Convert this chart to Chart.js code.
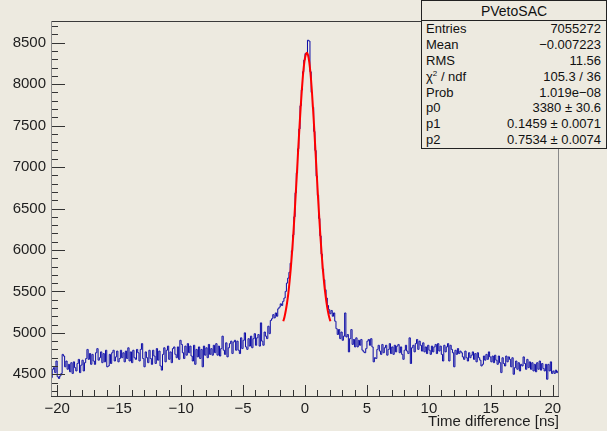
<!DOCTYPE html>
<html>
<head>
<meta charset="utf-8">
<script src="https://cdn.jsdelivr.net/npm/chart.js@4"></script>
<style>
  html, body { margin: 0; padding: 0; background: #edeae0; }
  #wrap { position: relative; width: 607px; height: 431px; }
  #c { display: block; }
  #stats {
    position: absolute; left: 421px; top: 0; width: 184px; height: 147px;
    border: 1px solid #222; background: #edeae0;
    font-family: "Liberation Sans", Arial, sans-serif; font-size: 13px; color: #111;
  }
  #stats .head { height: 19px; line-height: 20px; text-align: center; border-bottom: 1px solid #222; font-size: 14px; }
  #stats .row { display: flex; justify-content: space-between; height: 15.9px; line-height: 16px; padding: 0 5px 0 4px; }
  #stats sup { font-size: 8px; line-height: 0; vertical-align: 5px; }
</style>
</head>
<body>
<div id="wrap">
  <canvas id="c" width="607" height="431"></canvas>
  <div id="stats">
    <div class="head">PVetoSAC</div>
    <div class="row"><span>Entries</span><span>7055272</span></div>
    <div class="row"><span>Mean</span><span>&minus;0.007223</span></div>
    <div class="row"><span>RMS</span><span>11.56</span></div>
    <div class="row"><span>&chi;<sup>2</sup> / ndf</span><span>105.3 / 36</span></div>
    <div class="row"><span>Prob</span><span>1.019e&minus;08</span></div>
    <div class="row"><span>p0</span><span>3380 &plusmn; 30.6</span></div>
    <div class="row"><span>p1</span><span>0.1459 &plusmn; 0.0071</span></div>
    <div class="row"><span>p2</span><span>0.7534 &plusmn; 0.0074</span></div>
  </div>
</div>
<script>
// histogram: 410 bins of 0.1 ns from -20.5 to 20.5
const binLow = -20.5;
const binWidth = 0.1;
const counts = [
  4460, 4560, 4580, 4520, 4660, 4470, 4450, 4480, 4510, 4740,
  4720, 4590, 4660, 4560, 4620, 4530, 4640, 4510, 4650, 4580,
  4540, 4630, 4680, 4520, 4610, 4670, 4540, 4640, 4690, 4800,
  4680, 4750, 4620, 4740, 4660, 4620, 4760, 4810, 4670, 4700,
  4770, 4640, 4750, 4650, 4790, 4590, 4600, 4740, 4630, 4760,
  4790, 4660, 4710, 4780, 4650, 4690, 4790, 4700, 4760, 4650,
  4780, 4690, 4820, 4660, 4770, 4640, 4790, 4700, 4680, 4800,
  4760, 4660, 4800, 4870, 4690, 4590, 4770, 4700, 4640, 4790,
  4690, 4620, 4790, 4720, 4630, 4810, 4670, 4780, 4600, 4550,
  4740, 4820, 4650, 4790, 4840, 4680, 4770, 4640, 4810, 4830,
  4740, 4700, 4830, 4680, 4910, 4860, 4760, 4690, 4840, 4730,
  4870, 4760, 4840, 4720, 4660, 4850, 4620, 4800, 4710, 4830,
  4690, 4800, 4590, 4840, 4730, 4820, 4700, 4860, 4740, 4810,
  4730, 4850, 4760, 4870, 4730, 4840, 4720, 4810, 4960, 4790,
  4740, 4880, 4710, 4820, 4870, 4900, 4750, 4890, 4910, 4790,
  4900, 4790, 4750, 4940, 4810, 4910, 5000, 4830, 4800, 4930,
  4840, 4960, 4820, 4930, 4990, 4850, 4940, 4980, 4840, 5120,
  4900, 4850, 5010, 4960, 4930, 5080, 4990, 5150, 5170, 5220,
  5180, 5240, 5200, 5290, 5310, 5350, 5330, 5380, 5420, 5500,
  5600, 5660, 5730, 5840, 5990, 6180, 6400, 6690, 6930, 7220,
  7460, 7740, 7930, 8150, 8290, 8370, 8360, 8530, 8520, 8150,
  7900, 7720, 7430, 7200, 6890, 6660, 6380, 6170, 5950, 5770,
  5640, 5520, 5420, 5330, 5280, 5230, 5270, 5200, 5240, 5140,
  5050, 4980, 5040, 4930, 5010, 4910, 4960, 5240, 4950, 4980,
  4770, 4930, 5040, 4860, 4920, 4830, 4940, 4830, 4910, 4850,
  4920, 4790, 4770, 4760, 4810, 4900, 4920, 4850, 4930, 4830,
  4650, 4700, 4690, 4800, 4850, 4780, 4740, 4860, 4760, 4820,
  4850, 4730, 4800, 4870, 4750, 4830, 4740, 4850, 4770, 4840,
  4860, 4760, 4830, 4740, 4680, 4790, 4850, 4780, 4750, 4940,
  4630, 4820, 4850, 4770, 4870, 4920, 4800, 4900, 4850, 4780,
  4880, 4770, 4830, 4750, 4850, 4790, 4740, 4840, 4770, 4830,
  4860, 4750, 4870, 4780, 4840, 4740, 4660, 4850, 4770, 4830,
  4870, 4660, 4850, 4800, 4760, 4590, 4790, 4740, 4810, 4750,
  4780, 4760, 4710, 4680, 4780, 4700, 4660, 4760, 4700, 4730,
  4770, 4680, 4750, 4650, 4760, 4700, 4670, 4600, 4620, 4720,
  4670, 4740, 4680, 4770, 4710, 4650, 4720, 4640, 4730, 4670,
  4620, 4720, 4640, 4520, 4700, 4630, 4600, 4720, 4650, 4710,
  4680, 4590, 4700, 4500, 4580, 4660, 4560, 4640, 4540, 4620,
  4600, 4710, 4630, 4560, 4680, 4580, 4650, 4560, 4640, 4540,
  4620, 4530, 4640, 4560, 4660, 4550, 4630, 4570, 4540, 4620,
  4440, 4620, 4540, 4650, 4510, 4540, 4510, 4550, 4520, 4540
];

// fitted curve, sampled every 0.1 ns from -1.75 to 2.05
const fitStart = -1.75;
const fitStep = 0.1;
const fitValues = [
  5140, 5195, 5270, 5360, 5470, 5610, 5770, 5960, 6170, 6410,
  6670, 6930, 7210, 7470, 7720, 7940, 8130, 8270, 8350, 8380,
  8350, 8260, 8120, 7930, 7700, 7450, 7180, 6910, 6640, 6390,
  6150, 5940, 5750, 5590, 5460, 5350, 5260, 5190, 5140
];

const xTicks = [-20, -15, -10, -5, 0, 5, 10, 15, 20];
const yTicks = [4500, 5000, 5500, 6000, 6500, 7000, 7500, 8000, 8500];

const histPoints = counts.map((v, i) => ({ x: binLow + (i + 0.5) * binWidth, y: v }));
const fitPoints = fitValues.map((v, i) => ({ x: fitStart + i * fitStep, y: v }));

const font = { family: 'Liberation Sans', size: 15 };

// ROOT style: ticks inside the frame, frame drawn over the data
const rootFrame = {
  id: 'rootFrame',
  afterDatasetsDraw(chart) {
    const { ctx, chartArea: a, scales: { x, y } } = chart;
    ctx.save();
    ctx.lineWidth = 1;
    ctx.strokeStyle = '#333';
    ctx.beginPath();
    for (let v = -20; v <= 20; v++) {
      const px = Math.round(x.getPixelForValue(v)) + 0.5;
      const len = v % 5 === 0 ? 11 : 6;
      ctx.moveTo(px, a.bottom);
      ctx.lineTo(px, a.bottom - len);
    }
    for (let v = 4300; v <= 8700; v += 100) {
      const py = Math.round(y.getPixelForValue(v)) + 0.5;
      const len = v % 500 === 0 ? 14 : 7;
      ctx.moveTo(a.left, py);
      ctx.lineTo(a.left + len, py);
    }
    ctx.stroke();

    ctx.beginPath();
    ctx.strokeStyle = '#3a3a3a';
    ctx.moveTo(a.left, a.top + 0.5); ctx.lineTo(a.right, a.top + 0.5);
    ctx.moveTo(a.left, a.bottom + 0.5); ctx.lineTo(a.right, a.bottom + 0.5);
    ctx.stroke();
    ctx.beginPath();
    ctx.strokeStyle = '#8a8a8a';
    ctx.moveTo(a.left + 0.5, a.top); ctx.lineTo(a.left + 0.5, a.bottom);
    ctx.moveTo(a.right - 0.5, a.top); ctx.lineTo(a.right - 0.5, a.bottom);
    ctx.stroke();
    ctx.restore();
  }
};

new Chart(document.getElementById('c'), {
  type: 'line',
  data: {
    datasets: [
      {
        data: fitPoints,
        borderColor: '#ff0000',
        borderWidth: 2,
        pointRadius: 0,
        cubicInterpolationMode: 'monotone',
        order: 0
      },
      {
        data: histPoints,
        stepped: 'middle',
        borderColor: '#0a0aa6',
        borderWidth: 1,
        pointRadius: 0,
        order: 1
      }
    ]
  },
  options: {
    responsive: false,
    animation: false,
    layout: { padding: { top: 21, right: 48, left: 0, bottom: 0 } },
    plugins: { legend: { display: false }, tooltip: { enabled: false } },
    scales: {
      x: {
        type: 'linear',
        min: -20.5,
        max: 20.5,
        afterBuildTicks: s => { s.ticks = xTicks.map(v => ({ value: v })); },
        afterFit: s => { s.height = 35; },
        grid: { display: false, drawTicks: false },
        border: { display: false },
        ticks: {
          autoSkip: false, maxRotation: 0, padding: 4, font, color: '#1e1e1e',
          callback: v => String(v).replace('-', '\u2212')
        },
        title: {
          display: true, text: 'Time difference [ns]', align: 'end',
          font, color: '#1e1e1e', padding: { top: 0, bottom: 0 }
        }
      },
      y: {
        min: 4238,
        max: 8762,
        afterBuildTicks: s => { s.ticks = yTicks.map(v => ({ value: v })); },
        afterFit: s => { s.width = 51; },
        grid: { display: false, drawTicks: false },
        border: { display: false },
        ticks: { padding: 5, font, color: '#1e1e1e', callback: v => String(v) }
      }
    }
  },
  plugins: [rootFrame]
});
</script>
</body>
</html>
